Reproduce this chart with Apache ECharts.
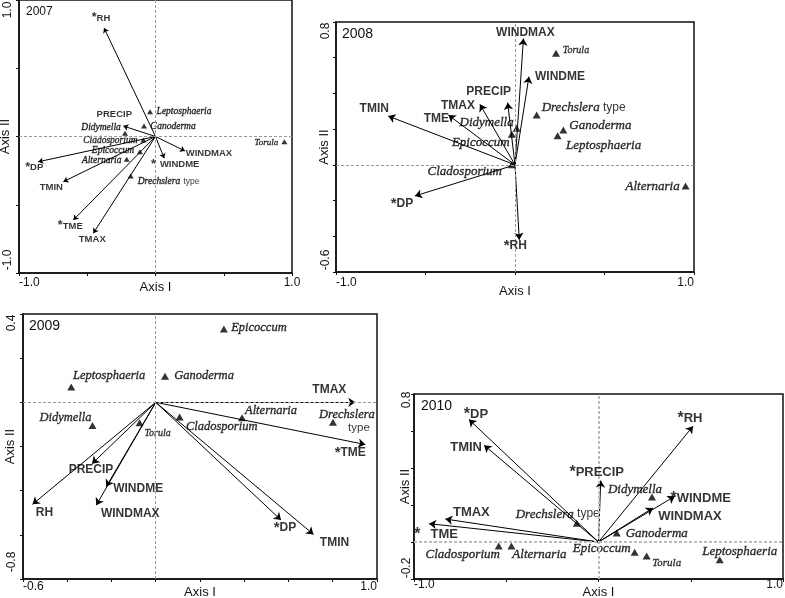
<!DOCTYPE html>
<html><head><meta charset="utf-8">
<script src="https://cdn.jsdelivr.net/npm/echarts@6/dist/echarts.min.js"></script>
<style>html,body{margin:0;padding:0;background:#fff}#c{width:785px;height:598px}</style>
</head><body><div id="c"></div>
<script>
// ---- data ----
const envNames = ['RH','PRECIP','DP','TMIN','TME','TMAX','WINDMAX','WINDME'];
const spNames = ['Alternaria','Cladosporium','Didymella','Drechslera','Epicoccum','Ganoderma','Leptosphaeria','Torula'];

const env2007X = [-0.377,-0.236,-0.859,-0.675,-0.602,-0.456, 0.216, 0.064];
const env2007Y = [ 0.795, 0.077,-0.185,-0.331,-0.612,-0.709,-0.106,-0.160];
const sp2007X  = [-0.211,-0.089,-0.223,-0.182,-0.114,-0.084,-0.040, 0.944];
const sp2007Y  = [-0.167,-0.026, 0.023,-0.289,-0.111, 0.077, 0.182,-0.038];
const sig2007  = ['RH','DP','TME','WINDME'];

const env2008X = [ 0.024,-0.041,-0.559,-0.708,-0.372,-0.196, 0.047, 0.078];
const env2008Y = [-0.420, 0.348,-0.174, 0.273, 0.279, 0.339, 0.707, 0.494];
const sp2008X  = [ 0.953,-0.018, 0.009, 0.121,-0.018, 0.270, 0.238, 0.229];
const sp2008Y  = [-0.118, 0.000, 0.205, 0.279, 0.171, 0.195, 0.163, 0.625];
const sig2008  = ['DP','RH'];

const env2009X = [-0.557,-0.288, 0.566, 0.713, 0.947, 0.902,-0.269,-0.224];
const env2009Y = [-0.462,-0.278,-0.533,-0.598,-0.191, 0.000,-0.466,-0.382];
const sp2009X  = [ 0.390, 0.108,-0.286, 0.801, 0.308, 0.042,-0.382,-0.073];
const sp2009Y  = [-0.070,-0.066,-0.105,-0.090, 0.332, 0.118, 0.070,-0.093];
const sig2009  = ['DP','TME'];

const env2010X = [ 0.512, 0.012,-0.702,-0.620,-0.918,-0.830, 0.295, 0.413];
const env2010Y = [ 0.626, 0.332, 0.662, 0.523, 0.099, 0.124, 0.184, 0.247];
const sp2010X  = [-0.472,-0.541, 0.290,-0.118, 0.196, 0.099, 0.657, 0.261];
const sp2010Y  = [-0.021,-0.021, 0.243, 0.102,-0.055, 0.048,-0.096,-0.075];
const sig2010  = ['DP','RH','PRECIP','WINDME','TME'];

const years = ['2007','2008','2009','2010'];
const axisRanges = [
  {x:[-1,1,0.5], y:[-1,1,0.5]},
  {x:[-1,1,0.5], y:[-0.6,0.8,0.2]},
  {x:[-0.6,1,0.2], y:[-0.8,0.4,0.2]},
  {x:[-1,1,0.5], y:[-0.2,0.8,0.2]}
];

// ---- layout / style (pixel offsets of labels etc.) ----
const layout = [
 {grid:{left:19,top:0,width:273,height:273}, envFont:9.5, spFont:9.5, torFont:9, yearFont:12, yearPos:[26,6],
  arrow:5, tri:6, xLabMargin:4, yLabMargin:5, xNameGap:8, yNameGap:7, yLo:13, yHi:10, zeroColor:'#999', zeroWidth:1, dre2line:false,
  starGap:{WINDME:4},
  envOff:{RH:[-3,-10],PRECIP:[-9,-11.5],DP:[-4,6],TMIN:[-12,6],TME:[-3,6],TMAX:[-1,6],WINDMAX:[24,2],WINDME:[11,6]},
  spOff:{Leptosphaeria:[34,0],Ganoderma:[29,1],Didymella:[-24,-6],Cladosporium:[-33,0],Epicoccum:[-27,-1],Alternaria:[-25,1],Drechslera:[38,6],Torula:[-18,1]}},
 {grid:{left:336,top:22,width:358,height:250}, envFont:12, spFont:13, torFont:10, yearFont:14, yearPos:[342,27],
  arrow:7, tri:8, xLabMargin:5, yLabMargin:4, xNameGap:13, yNameGap:5, yLo:12, yHi:9, zeroColor:'#999', zeroWidth:1, dre2line:false,
  starGap:{},
  envOff:{WINDMAX:[2,-6],WINDME:[31,0],PRECIP:[-19,-11],TMAX:[-22,1],TME:[-12,4],TMIN:[-14,-7],DP:[-13,8],RH:[-4,6]},
  spOff:{Torula:[20,-3],Drechslera:[47,-7],Ganoderma:[37,-4],Leptosphaeria:[46,10],Alternaria:[-33,1],Didymella:[-30,-6],Epicoccum:[-31,8],Cladosporium:[-47,7]}},
 {grid:{left:23,top:314,width:354,height:265}, envFont:12, spFont:12.5, torFont:10, yearFont:14, yearPos:[29,319],
  arrow:7, tri:8, xLabMargin:2, yLabMargin:5, xNameGap:7, yNameGap:6, yLo:17, yHi:9, zeroColor:'#999', zeroWidth:1, dre2line:true,
  starGap:{},
  envOff:{TMAX:[-26,-13],TME:[-15,8],DP:[4,8],TMIN:[21,8],RH:[12,8],PRECIP:[-1,6],WINDME:[32,2],WINDMAX:[34,8]},
  spOff:{Epicoccum:[35,-1],Ganoderma:[39,-1],Leptosphaeria:[38,-11],Didymella:[-27,-8],Torula:[18,11],Cladosporium:[42,10],Alternaria:[29,-7],Drechslera:[14,-1]}},
 {grid:{left:414,top:394,width:369,height:185}, envFont:13, spFont:13, torFont:11, yearFont:14, yearPos:[421,399],
  arrow:7, tri:8, xLabMargin:0, yLabMargin:1, xNameGap:7, yNameGap:2, yLo:11, yHi:6, zeroColor:'#bbb', zeroWidth:2, dre2line:false,
  starGap:{TME:10},
  envOff:{DP:[7,-5],TMIN:[-18,2],PRECIP:[-4,-8],RH:[-3,-8],WINDME:[26,2],WINDMAX:[37,8],TMAX:[26,-7],TME:[7,11]},
  spOff:{Didymella:[-17,-7],Drechslera:[-19,-9],Ganoderma:[40,0],Cladosporium:[-36,9],Alternaria:[28,9],Epicoccum:[-33,-4],Torula:[20,7],Leptosphaeria:[20,-8]}}
];

const panels = [
  {ex:env2007X, ey:env2007Y, sx:sp2007X, sy:sp2007Y, sig:sig2007},
  {ex:env2008X, ey:env2008Y, sx:sp2008X, sy:sp2008Y, sig:sig2008},
  {ex:env2009X, ey:env2009Y, sx:sp2009X, sy:sp2009Y, sig:sig2009},
  {ex:env2010X, ey:env2010Y, sx:sp2010X, sy:sp2010Y, sig:sig2010}
];

const SANS = 'Liberation Sans, Arial, sans-serif';
const SERIF = 'Liberation Serif, Times New Roman, serif';
const INK = '#000';

const chart = echarts.init(document.getElementById('c'), null, {renderer:'canvas'});
const grids=[], xAxes=[], yAxes=[], series=[], titles=[];

panels.forEach((p,i)=>{
  const L = layout[i], R = axisRanges[i];
  grids.push(Object.assign({show:true, borderColor:'#111', borderWidth:1.5, containLabel:false, outerBoundsMode:'none'}, L.grid));
  const near=(a,b)=>Math.abs(a-b)<1e-6;
  xAxes.push({type:'value', gridIndex:i, min:R.x[0], max:R.x[1], interval:R.x[2],
    splitLine:{show:false}, axisLine:{show:true, onZero:false, lineStyle:{color:'#111', width:1.5}},
    axisTick:{show:true, length:3, lineStyle:{color:'#111', width:1}},
    axisLabel:{show:true, margin:L.xLabMargin, color:'#111', fontFamily:SANS, fontSize:12, showMinLabel:true, showMaxLabel:true,
      alignMinLabel:'left', alignMaxLabel: i===0 ? 'center' : 'right',
      formatter:v=> (near(v,R.x[0])||near(v,R.x[1])) ? v.toFixed(1) : ''},
    name:'Axis I', nameLocation:'middle', nameGap:L.xNameGap, nameMoveOverlap:false,
    nameTextStyle:{color:'#111', fontFamily:SANS, fontSize:13}});
  yAxes.push({type:'value', gridIndex:i, min:R.y[0], max:R.y[1], interval:R.y[2],
    splitLine:{show:false}, axisLine:{show:true, onZero:false, lineStyle:{color:'#111', width:1.5}},
    axisTick:{show:true, length:3, lineStyle:{color:'#111', width:1}},
    axisLabel:{show:true, margin:L.yLabMargin, rotate:90, color:'#111', fontFamily:SANS, fontSize:12, showMinLabel:true, showMaxLabel:true,
      formatter:v=> near(v,R.y[0]) ? '{lo|'+v.toFixed(1)+'}' : near(v,R.y[1]) ? '{hi|'+v.toFixed(1)+'}' : '',
      rich:{lo:{fontFamily:SANS, fontSize:12, color:'#111', padding:[0,0,0,2*L.yLo]},
            hi:{fontFamily:SANS, fontSize:12, color:'#111', padding:[0,2*L.yHi,0,0]}}},
    name:'Axis II', nameLocation:'middle', nameGap:L.yNameGap, nameMoveOverlap:false,
    nameTextStyle:{color:'#111', fontFamily:SANS, fontSize:13}});
  titles.push({text:years[i], left:L.yearPos[0], top:L.yearPos[1], padding:0,
    textStyle:{fontFamily:SANS, fontSize:L.yearFont, fontWeight:'normal', color:'#111'}});

  // arrows
  series.push({type:'lines', coordinateSystem:'cartesian2d', xAxisIndex:i, yAxisIndex:i, silent:true, z:3,
    symbol:['none','arrow'], symbolSize:[1, L.arrow], polyline:false,
    lineStyle:{color:INK, width:1, opacity:1, curveness:0},
    data: envNames.map((n,k)=>({coords:[[0,0],[p.ex[k], p.ey[k]]]}))});

  // env labels
  const gapVal = Object.values(L.starGap)[0] || 0;
  series.push({type:'scatter', xAxisIndex:i, yAxisIndex:i, silent:true, z:5, symbolSize:1,
    itemStyle:{color:'rgba(0,0,0,0)'},
    data: envNames.map((n,k)=>{
      const star = p.sig.includes(n) ? (L.starGap[n] ? '{sg|*}' : '{st|*}') : '';
      return {name:n, value:[p.ex[k], p.ey[k]],
        label:{show:true, position:'inside', offset:L.envOff[n], formatter: star+'{en|'+n+'}'}};
    }),
    label:{show:true, color:INK,
      rich:{en:{fontFamily:SANS, fontWeight:'bold', fontSize:L.envFont, color:INK},
            st:{fontFamily:SANS, fontWeight:'bold', fontSize:L.envFont+3, color:INK},
            sg:{fontFamily:SANS, fontWeight:'bold', fontSize:L.envFont+3, color:INK, padding:[0,gapVal,0,0]}}}});

  // species triangles
  series.push({type:'scatter', xAxisIndex:i, yAxisIndex:i, silent:true, z:4, symbol:'triangle', symbolSize:[L.tri, L.tri-1],
    itemStyle:{color:INK},
    data: spNames.map((n,k)=>{
      let f;
      if (n==='Drechslera') f = L.dre2line ? '{i|Drechslera}\n{t2|type}' : '{i|Drechslera} {t|type}';
      else if (n==='Torula') f = '{tor|Torula}';
      else f = '{i|'+n+'}';
      return {name:n, value:[p.sx[k], p.sy[k]], label:{show:true, position:'inside', offset:L.spOff[n], formatter:f}};
    }),
    label:{show:true, color:INK,
      rich:{i:{fontFamily:SERIF, fontStyle:'italic', fontSize:L.spFont, color:INK, textBorderColor:INK, textBorderWidth:0.35},
            tor:{fontFamily:SERIF, fontStyle:'italic', fontSize:L.torFont, color:INK, textBorderColor:INK, textBorderWidth:0.3},
            t:{fontFamily:SANS, fontSize:L.spFont-1, color:INK},
            t2:{fontFamily:SANS, fontSize:L.spFont-1, color:INK, padding:[0,0,0,24]}}},
    markLine:{silent:true, symbol:['none','none'], label:{show:false}, animation:false,
      lineStyle:{color:L.zeroColor, width:L.zeroWidth, type:[3,2]},
      data:[{xAxis:0},{yAxis:0}]}});
});

chart.setOption({animation:false, backgroundColor:'#fff', title:titles, grid:grids, xAxis:xAxes, yAxis:yAxes, series:series});
</script>
</body></html>
